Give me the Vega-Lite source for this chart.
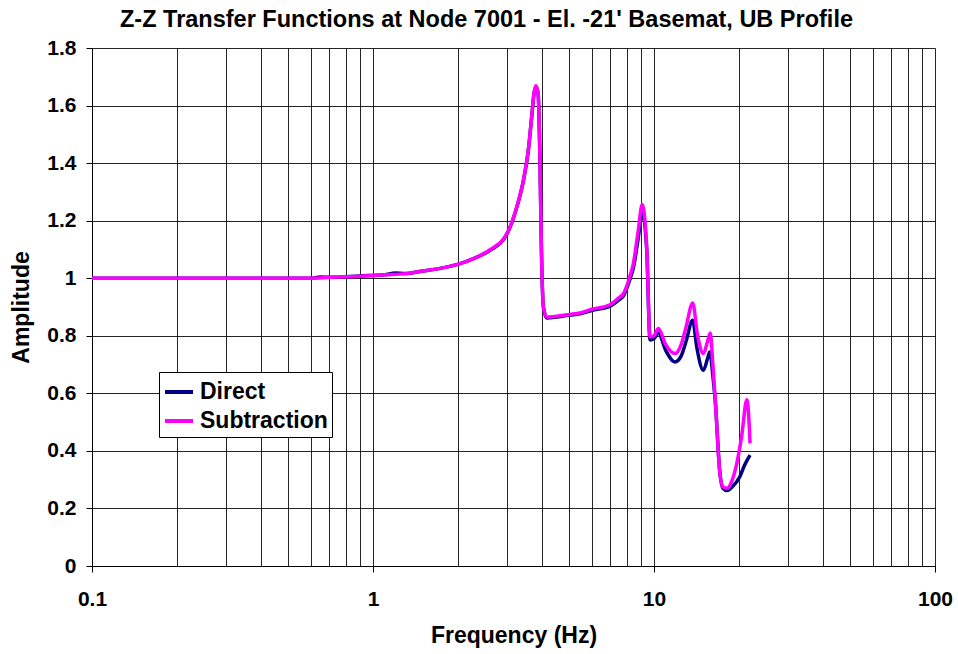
{
  "$schema": "https://vega.github.io/schema/vega-lite/v6.json",
  "width": 843,
  "height": 518,
  "autosize": {"type": "none"},
  "padding": {"left": 92, "top": 48, "right": 23, "bottom": 88},
  "background": "white",
  "config": {
    "view": {"stroke": null},
    "font": "Liberation Sans"
  },
  "title": {
    "text": "Z-Z Transfer Functions at Node 7001 - El. -21' Basemat, UB Profile",
    "font": "Liberation Sans",
    "fontSize": 23.5,
    "fontWeight": "bold",
    "color": "#000000",
    "anchor": "middle",
    "dx": -27,
    "offset": 6
  },
  "data": {
    "values": [
      {"f": 0.1, "a": 1.0, "s": "Direct"},
      {"f": 0.3, "a": 1.0, "s": "Direct"},
      {"f": 0.5, "a": 1.0, "s": "Direct"},
      {"f": 0.6, "a": 1.0, "s": "Direct"},
      {"f": 0.65, "a": 1.004, "s": "Direct"},
      {"f": 0.7, "a": 1.003, "s": "Direct"},
      {"f": 0.9, "a": 1.008, "s": "Direct"},
      {"f": 1.1, "a": 1.012, "s": "Direct"},
      {"f": 1.2, "a": 1.018, "s": "Direct"},
      {"f": 1.3, "a": 1.016, "s": "Direct"},
      {"f": 1.5, "a": 1.025, "s": "Direct"},
      {"f": 1.75, "a": 1.035, "s": "Direct"},
      {"f": 2.0, "a": 1.048, "s": "Direct"},
      {"f": 2.3, "a": 1.07, "s": "Direct"},
      {"f": 2.6, "a": 1.096, "s": "Direct"},
      {"f": 3.0, "a": 1.154, "s": "Direct"},
      {"f": 3.25, "a": 1.247, "s": "Direct"},
      {"f": 3.43, "a": 1.339, "s": "Direct"},
      {"f": 3.57, "a": 1.443, "s": "Direct"},
      {"f": 3.67, "a": 1.559, "s": "Direct"},
      {"f": 3.74, "a": 1.64, "s": "Direct"},
      {"f": 3.8, "a": 1.665, "s": "Direct"},
      {"f": 3.87, "a": 1.64, "s": "Direct"},
      {"f": 3.93, "a": 1.4, "s": "Direct"},
      {"f": 3.97, "a": 1.13, "s": "Direct"},
      {"f": 4.04, "a": 0.9, "s": "Direct"},
      {"f": 4.15, "a": 0.862, "s": "Direct"},
      {"f": 4.5, "a": 0.865, "s": "Direct"},
      {"f": 5.0, "a": 0.872, "s": "Direct"},
      {"f": 5.45, "a": 0.876, "s": "Direct"},
      {"f": 6.0, "a": 0.888, "s": "Direct"},
      {"f": 6.97, "a": 0.903, "s": "Direct"},
      {"f": 7.5, "a": 0.925, "s": "Direct"},
      {"f": 7.78, "a": 0.938, "s": "Direct"},
      {"f": 8.2, "a": 0.995, "s": "Direct"},
      {"f": 8.44, "a": 1.035, "s": "Direct"},
      {"f": 8.79, "a": 1.14, "s": "Direct"},
      {"f": 9.08, "a": 1.23, "s": "Direct"},
      {"f": 9.42, "a": 1.1, "s": "Direct"},
      {"f": 9.68, "a": 0.785, "s": "Direct"},
      {"f": 10.0, "a": 0.79, "s": "Direct"},
      {"f": 10.36, "a": 0.81, "s": "Direct"},
      {"f": 11.0, "a": 0.75, "s": "Direct"},
      {"f": 11.88, "a": 0.709, "s": "Direct"},
      {"f": 12.5, "a": 0.73, "s": "Direct"},
      {"f": 13.0, "a": 0.78, "s": "Direct"},
      {"f": 13.73, "a": 0.854, "s": "Direct"},
      {"f": 14.2, "a": 0.76, "s": "Direct"},
      {"f": 14.99, "a": 0.68, "s": "Direct"},
      {"f": 15.5, "a": 0.72, "s": "Direct"},
      {"f": 15.8, "a": 0.744, "s": "Direct"},
      {"f": 16.2, "a": 0.66, "s": "Direct"},
      {"f": 16.5, "a": 0.58, "s": "Direct"},
      {"f": 17.17, "a": 0.32, "s": "Direct"},
      {"f": 17.6, "a": 0.27, "s": "Direct"},
      {"f": 18.2, "a": 0.262, "s": "Direct"},
      {"f": 19.0, "a": 0.275, "s": "Direct"},
      {"f": 20.2, "a": 0.31, "s": "Direct"},
      {"f": 21.0, "a": 0.35, "s": "Direct"},
      {"f": 21.97, "a": 0.385, "s": "Direct"},

      {"f": 0.1, "a": 1.0, "s": "Subtraction"},
      {"f": 0.3, "a": 1.0, "s": "Subtraction"},
      {"f": 0.5, "a": 1.0, "s": "Subtraction"},
      {"f": 0.6, "a": 1.0, "s": "Subtraction"},
      {"f": 0.7, "a": 1.003, "s": "Subtraction"},
      {"f": 0.9, "a": 1.007, "s": "Subtraction"},
      {"f": 1.1, "a": 1.012, "s": "Subtraction"},
      {"f": 1.3, "a": 1.016, "s": "Subtraction"},
      {"f": 1.5, "a": 1.025, "s": "Subtraction"},
      {"f": 1.75, "a": 1.035, "s": "Subtraction"},
      {"f": 2.0, "a": 1.048, "s": "Subtraction"},
      {"f": 2.3, "a": 1.07, "s": "Subtraction"},
      {"f": 2.6, "a": 1.098, "s": "Subtraction"},
      {"f": 3.0, "a": 1.156, "s": "Subtraction"},
      {"f": 3.25, "a": 1.249, "s": "Subtraction"},
      {"f": 3.43, "a": 1.341, "s": "Subtraction"},
      {"f": 3.57, "a": 1.445, "s": "Subtraction"},
      {"f": 3.67, "a": 1.561, "s": "Subtraction"},
      {"f": 3.74, "a": 1.642, "s": "Subtraction"},
      {"f": 3.8, "a": 1.669, "s": "Subtraction"},
      {"f": 3.87, "a": 1.64, "s": "Subtraction"},
      {"f": 3.93, "a": 1.4, "s": "Subtraction"},
      {"f": 3.97, "a": 1.13, "s": "Subtraction"},
      {"f": 4.04, "a": 0.9, "s": "Subtraction"},
      {"f": 4.15, "a": 0.865, "s": "Subtraction"},
      {"f": 4.5, "a": 0.868, "s": "Subtraction"},
      {"f": 5.0, "a": 0.874, "s": "Subtraction"},
      {"f": 5.45, "a": 0.879, "s": "Subtraction"},
      {"f": 6.0, "a": 0.892, "s": "Subtraction"},
      {"f": 6.97, "a": 0.908, "s": "Subtraction"},
      {"f": 7.5, "a": 0.932, "s": "Subtraction"},
      {"f": 7.78, "a": 0.946, "s": "Subtraction"},
      {"f": 8.2, "a": 1.005, "s": "Subtraction"},
      {"f": 8.44, "a": 1.05, "s": "Subtraction"},
      {"f": 8.79, "a": 1.166, "s": "Subtraction"},
      {"f": 9.08, "a": 1.256, "s": "Subtraction"},
      {"f": 9.42, "a": 1.108, "s": "Subtraction"},
      {"f": 9.68, "a": 0.796, "s": "Subtraction"},
      {"f": 10.0, "a": 0.8, "s": "Subtraction"},
      {"f": 10.36, "a": 0.825, "s": "Subtraction"},
      {"f": 11.0, "a": 0.77, "s": "Subtraction"},
      {"f": 11.88, "a": 0.738, "s": "Subtraction"},
      {"f": 12.5, "a": 0.77, "s": "Subtraction"},
      {"f": 13.0, "a": 0.83, "s": "Subtraction"},
      {"f": 13.73, "a": 0.914, "s": "Subtraction"},
      {"f": 14.3, "a": 0.8, "s": "Subtraction"},
      {"f": 14.99, "a": 0.738, "s": "Subtraction"},
      {"f": 15.5, "a": 0.78, "s": "Subtraction"},
      {"f": 15.86, "a": 0.81, "s": "Subtraction"},
      {"f": 16.2, "a": 0.7, "s": "Subtraction"},
      {"f": 16.5, "a": 0.587, "s": "Subtraction"},
      {"f": 17.17, "a": 0.32, "s": "Subtraction"},
      {"f": 17.6, "a": 0.275, "s": "Subtraction"},
      {"f": 18.2, "a": 0.27, "s": "Subtraction"},
      {"f": 19.0, "a": 0.3, "s": "Subtraction"},
      {"f": 19.7, "a": 0.356, "s": "Subtraction"},
      {"f": 20.5, "a": 0.45, "s": "Subtraction"},
      {"f": 21.4, "a": 0.578, "s": "Subtraction"},
      {"f": 21.7, "a": 0.53, "s": "Subtraction"},
      {"f": 21.97, "a": 0.426, "s": "Subtraction"}
    ]
  },
  "mark": {"type": "line", "strokeWidth": 3.5, "interpolate": "monotone", "clip": true},
  "encoding": {
    "x": {
      "field": "f",
      "type": "quantitative",
      "scale": {"type": "log", "domain": [0.1, 100], "nice": false},
      "axis": {
        "title": "Frequency (Hz)",
        "values": [0.1, 0.2, 0.3, 0.4, 0.5, 0.6, 0.7, 0.8, 0.9, 1, 2, 3, 4, 5, 6, 7, 8, 9, 10, 20, 30, 40, 50, 60, 70, 80, 90, 100],
        "labelExpr": "(datum.value == 0.1 || datum.value == 1 || datum.value == 10 || datum.value == 100) ? ('' + datum.value) : ''",
        "labelOverlap": false,
        "labelFlush": false,
        "labelFont": "Liberation Sans",
        "labelFontSize": 21,
        "labelFontWeight": "bold",
        "labelColor": "#000000",
        "labelPadding": 16,
        "titleFont": "Liberation Sans",
        "titleFontSize": 23,
        "titleFontWeight": "bold",
        "titleColor": "#000000",
        "titlePadding": 15,
        "domainColor": "#000000",
        "domainWidth": 1,
        "tickColor": "#000000",
        "tickSize": 6,
        "tickOpacity": {"condition": {"test": "datum.value == 0.1 || datum.value == 1 || datum.value == 10 || datum.value == 100", "value": 1}, "value": 0},
        "grid": true,
        "gridColor": "#000000",
        "gridWidth": 1,
        "gridOpacity": 0.85
      }
    },
    "y": {
      "field": "a",
      "type": "quantitative",
      "scale": {"domain": [0, 1.8], "nice": false, "zero": true},
      "axis": {
        "title": "Amplitude",
        "values": [0, 0.2, 0.4, 0.6, 0.8, 1, 1.2, 1.4, 1.6, 1.8],
        "labelExpr": "'' + datum.value",
        "labelFont": "Liberation Sans",
        "labelFontSize": 21,
        "labelFontWeight": "bold",
        "labelColor": "#000000",
        "labelPadding": 10,
        "titleFont": "Liberation Sans",
        "titleFontSize": 23,
        "titleFontWeight": "bold",
        "titleColor": "#000000",
        "titlePadding": 13,
        "domainColor": "#000000",
        "domainWidth": 1,
        "tickColor": "#000000",
        "tickSize": 6,
        "grid": true,
        "gridColor": "#000000",
        "gridWidth": 1,
        "gridOpacity": 0.85
      }
    },
    "color": {
      "field": "s",
      "type": "nominal",
      "scale": {"domain": ["Direct", "Subtraction"], "range": ["#000080", "#FF00FF"]},
      "legend": {
        "title": null,
        "orient": "none",
        "legendX": 67,
        "legendY": 324,
        "symbolType": "stroke",
        "symbolSize": 784,
        "symbolStrokeWidth": 4,
        "labelFont": "Liberation Sans",
        "labelFontSize": 23,
        "labelFontWeight": "bold",
        "labelColor": "#000000",
        "labelOffset": 5,
        "rowPadding": 1,
        "padding": 4,
        "strokeColor": "#000000",
        "fillColor": "#FFFFFF"
      }
    }
  }
}
